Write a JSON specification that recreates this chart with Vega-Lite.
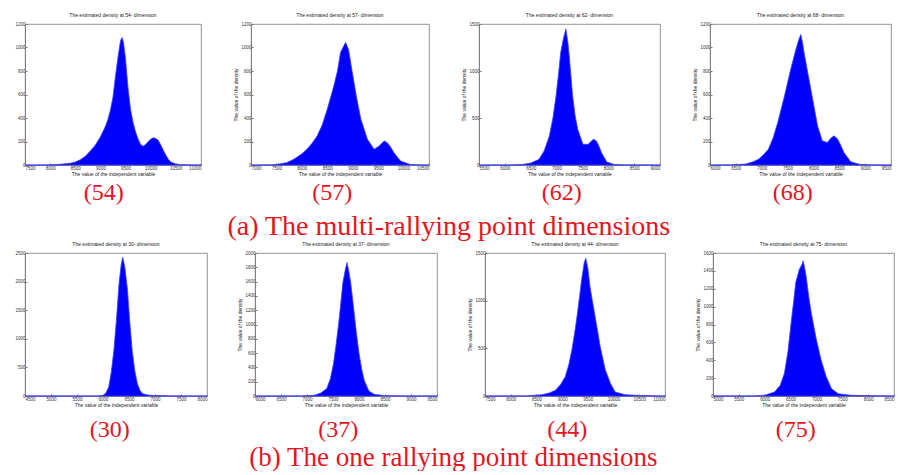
{
  "$schema": "https://vega.github.io/schema/vega-lite/v6.json",
  "padding": {"left": 4, "top": 12, "right": 5, "bottom": 0},
  "background": "white",
  "spacing": 0,
  "config": {
    "view": {"stroke": "#777", "strokeWidth": 0.8},
    "font": "Liberation Sans",
    "title": {"fontSize": 5, "fontWeight": "normal", "color": "#222", "offset": 3, "font": "Liberation Sans", "anchor": "middle"},
    "axis": {"labelFontSize": 4.5, "titleFontSize": 5, "titleFontWeight": "normal", "labelColor": "#333", "titleColor": "#222", "domainColor": "#777", "domainWidth": 0.8, "tickColor": "#777", "tickSize": -2, "labelPadding": 2, "titlePadding": 2, "grid": false},
    "area": {"color": "#0000ff", "interpolate": "linear", "stroke": "#4040ff", "strokeWidth": 0.8}
  },
  "datasets": {
    "d54": [
      {"x": 7500, "y": 0}, {"x": 7900, "y": 0}, {"x": 8000, "y": 2}, {"x": 8200, "y": 6}, {"x": 8400, "y": 15}, {"x": 8500, "y": 25}, {"x": 8600, "y": 45}, {"x": 8700, "y": 75}, {"x": 8800, "y": 120}, {"x": 8900, "y": 170}, {"x": 9000, "y": 240}, {"x": 9100, "y": 330}, {"x": 9150, "y": 390}, {"x": 9200, "y": 470}, {"x": 9250, "y": 580}, {"x": 9300, "y": 760}, {"x": 9350, "y": 920}, {"x": 9400, "y": 1060}, {"x": 9430, "y": 1085}, {"x": 9460, "y": 1040}, {"x": 9500, "y": 900}, {"x": 9550, "y": 650}, {"x": 9600, "y": 470}, {"x": 9650, "y": 360}, {"x": 9700, "y": 280}, {"x": 9750, "y": 220}, {"x": 9800, "y": 175}, {"x": 9850, "y": 160}, {"x": 9900, "y": 175}, {"x": 9950, "y": 200}, {"x": 10000, "y": 220}, {"x": 10050, "y": 232}, {"x": 10100, "y": 225}, {"x": 10150, "y": 210}, {"x": 10200, "y": 170}, {"x": 10250, "y": 125}, {"x": 10300, "y": 85}, {"x": 10350, "y": 50}, {"x": 10400, "y": 25}, {"x": 10500, "y": 8}, {"x": 10600, "y": 3}, {"x": 10800, "y": 1}, {"x": 11000, "y": 0}
    ],
    "d57": [
      {"x": 7000, "y": 0}, {"x": 7400, "y": 1}, {"x": 7500, "y": 5}, {"x": 7700, "y": 20}, {"x": 7840, "y": 48}, {"x": 8000, "y": 95}, {"x": 8100, "y": 134}, {"x": 8200, "y": 185}, {"x": 8300, "y": 247}, {"x": 8400, "y": 340}, {"x": 8500, "y": 475}, {"x": 8630, "y": 674}, {"x": 8700, "y": 800}, {"x": 8760, "y": 958}, {"x": 8820, "y": 1010}, {"x": 8860, "y": 1043}, {"x": 8920, "y": 980}, {"x": 8970, "y": 845}, {"x": 9070, "y": 589}, {"x": 9160, "y": 390}, {"x": 9290, "y": 219}, {"x": 9420, "y": 134}, {"x": 9520, "y": 162}, {"x": 9620, "y": 205}, {"x": 9680, "y": 190}, {"x": 9750, "y": 150}, {"x": 9810, "y": 105}, {"x": 9940, "y": 34}, {"x": 10130, "y": 5}, {"x": 10300, "y": 1}, {"x": 10500, "y": 0}
    ],
    "d62": [
      {"x": 5500, "y": 0}, {"x": 6100, "y": 0}, {"x": 6340, "y": 6}, {"x": 6500, "y": 20}, {"x": 6660, "y": 60}, {"x": 6760, "y": 150}, {"x": 6860, "y": 309}, {"x": 6930, "y": 500}, {"x": 6990, "y": 736}, {"x": 7040, "y": 980}, {"x": 7080, "y": 1198}, {"x": 7130, "y": 1340}, {"x": 7180, "y": 1447}, {"x": 7220, "y": 1300}, {"x": 7250, "y": 1127}, {"x": 7310, "y": 736}, {"x": 7360, "y": 520}, {"x": 7410, "y": 380}, {"x": 7510, "y": 220}, {"x": 7610, "y": 220}, {"x": 7710, "y": 274}, {"x": 7770, "y": 256}, {"x": 7820, "y": 200}, {"x": 7870, "y": 131}, {"x": 7970, "y": 32}, {"x": 8100, "y": 7}, {"x": 8300, "y": 1}, {"x": 9000, "y": 0}
    ],
    "d68": [
      {"x": 6000, "y": 0}, {"x": 6400, "y": 1}, {"x": 6690, "y": 8}, {"x": 6820, "y": 25}, {"x": 6940, "y": 50}, {"x": 7040, "y": 90}, {"x": 7130, "y": 135}, {"x": 7220, "y": 230}, {"x": 7310, "y": 361}, {"x": 7440, "y": 587}, {"x": 7560, "y": 813}, {"x": 7660, "y": 983}, {"x": 7720, "y": 1070}, {"x": 7756, "y": 1110}, {"x": 7790, "y": 1040}, {"x": 7820, "y": 954}, {"x": 7950, "y": 644}, {"x": 8080, "y": 333}, {"x": 8170, "y": 206}, {"x": 8270, "y": 192}, {"x": 8340, "y": 230}, {"x": 8400, "y": 248}, {"x": 8470, "y": 220}, {"x": 8530, "y": 165}, {"x": 8590, "y": 107}, {"x": 8720, "y": 28}, {"x": 8900, "y": 5}, {"x": 9100, "y": 1}, {"x": 9500, "y": 0}
    ],
    "d30": [
      {"x": 4500, "y": 0}, {"x": 5900, "y": 0}, {"x": 6010, "y": 12}, {"x": 6060, "y": 60}, {"x": 6110, "y": 159}, {"x": 6160, "y": 420}, {"x": 6210, "y": 806}, {"x": 6260, "y": 1350}, {"x": 6310, "y": 1982}, {"x": 6350, "y": 2300}, {"x": 6380, "y": 2424}, {"x": 6420, "y": 2250}, {"x": 6470, "y": 1865}, {"x": 6510, "y": 1350}, {"x": 6560, "y": 806}, {"x": 6610, "y": 450}, {"x": 6660, "y": 218}, {"x": 6710, "y": 100}, {"x": 6760, "y": 41}, {"x": 6890, "y": 12}, {"x": 7330, "y": 2}, {"x": 7900, "y": 0}, {"x": 8000, "y": 0}
    ],
    "d37": [
      {"x": 6000, "y": 0}, {"x": 6900, "y": 0}, {"x": 7140, "y": 10}, {"x": 7260, "y": 40}, {"x": 7380, "y": 104}, {"x": 7450, "y": 240}, {"x": 7510, "y": 456}, {"x": 7560, "y": 720}, {"x": 7610, "y": 1021}, {"x": 7650, "y": 1300}, {"x": 7690, "y": 1586}, {"x": 7740, "y": 1780}, {"x": 7770, "y": 1868}, {"x": 7800, "y": 1760}, {"x": 7840, "y": 1586}, {"x": 7900, "y": 1209}, {"x": 7950, "y": 880}, {"x": 8000, "y": 598}, {"x": 8050, "y": 380}, {"x": 8100, "y": 221}, {"x": 8190, "y": 70}, {"x": 8290, "y": 24}, {"x": 8490, "y": 5}, {"x": 8800, "y": 1}, {"x": 9500, "y": 0}
    ],
    "d44": [
      {"x": 7500, "y": 0}, {"x": 8300, "y": 1}, {"x": 8610, "y": 14}, {"x": 8750, "y": 32}, {"x": 8870, "y": 60}, {"x": 8970, "y": 120}, {"x": 9060, "y": 201}, {"x": 9130, "y": 330}, {"x": 9190, "y": 484}, {"x": 9240, "y": 650}, {"x": 9290, "y": 836}, {"x": 9340, "y": 1050}, {"x": 9380, "y": 1225}, {"x": 9430, "y": 1400}, {"x": 9460, "y": 1444}, {"x": 9500, "y": 1340}, {"x": 9540, "y": 1154}, {"x": 9590, "y": 990}, {"x": 9640, "y": 836}, {"x": 9690, "y": 680}, {"x": 9740, "y": 519}, {"x": 9840, "y": 272}, {"x": 9940, "y": 131}, {"x": 10030, "y": 42}, {"x": 10220, "y": 14}, {"x": 10540, "y": 4}, {"x": 10900, "y": 0}, {"x": 11000, "y": 0}
    ],
    "d75": [
      {"x": 5000, "y": 0}, {"x": 5800, "y": 1}, {"x": 6000, "y": 8}, {"x": 6190, "y": 45}, {"x": 6300, "y": 120}, {"x": 6380, "y": 252}, {"x": 6450, "y": 500}, {"x": 6510, "y": 817}, {"x": 6560, "y": 1060}, {"x": 6600, "y": 1269}, {"x": 6670, "y": 1419}, {"x": 6720, "y": 1470}, {"x": 6744, "y": 1513}, {"x": 6770, "y": 1440}, {"x": 6800, "y": 1344}, {"x": 6850, "y": 1120}, {"x": 6900, "y": 930}, {"x": 7000, "y": 629}, {"x": 7090, "y": 403}, {"x": 7190, "y": 215}, {"x": 7290, "y": 83}, {"x": 7420, "y": 26}, {"x": 7670, "y": 8}, {"x": 8060, "y": 2}, {"x": 8500, "y": 0}
    ]
  },
  "vconcat": [
    {
      "title": {"text": "(a) The multi-rallying point dimensions", "orient": "bottom", "fontSize": 28, "font": "Liberation Serif", "color": "#e3161e", "offset": 8},
      "spacing": 30,
      "hconcat": [
        {
          "title": {"text": "(54)", "orient": "bottom", "fontSize": 24, "font": "Liberation Serif", "color": "#e3161e", "offset": 4},
          "vconcat": [{
            "width": 176, "height": 141,
            "title": "The estimated density at 54- dimension",
            "data": {"name": "d54"},
            "mark": {"type": "area"},
            "encoding": {
              "x": {"field": "x", "type": "quantitative", "scale": {"domain": [7500, 11000], "nice": false}, "axis": {"values": [7500, 8000, 8500, 9000, 9500, 10000, 10500, 11000], "format": "d", "title": "The value of the independent variable"}},
              "y": {"field": "y", "type": "quantitative", "scale": {"domain": [0, 1200], "nice": false}, "axis": {"values": [0, 200, 400, 600, 800, 1000, 1200], "format": "d", "title": null, "minExtent": 20, "maxExtent": 20}}
            }
          }]
        },
        {
          "title": {"text": "(57)", "orient": "bottom", "fontSize": 24, "font": "Liberation Serif", "color": "#e3161e", "offset": 4},
          "vconcat": [{
            "width": 178, "height": 141,
            "title": "The estimated density at 57- dimension",
            "data": {"name": "d57"},
            "mark": {"type": "area"},
            "encoding": {
              "x": {"field": "x", "type": "quantitative", "scale": {"domain": [7000, 10500], "nice": false}, "axis": {"values": [7000, 7500, 8000, 8500, 9000, 9500, 10000, 10500], "format": "d", "title": "The value of the independent variable"}},
              "y": {"field": "y", "type": "quantitative", "scale": {"domain": [0, 1200], "nice": false}, "axis": {"values": [0, 200, 400, 600, 800, 1000, 1200], "format": "d", "title": "The value of the density"}}
            }
          }]
        },
        {
          "title": {"text": "(62)", "orient": "bottom", "fontSize": 24, "font": "Liberation Serif", "color": "#e3161e", "offset": 4},
          "vconcat": [{
            "width": 181, "height": 141,
            "title": "The estimated density at 62- dimension",
            "data": {"name": "d62"},
            "mark": {"type": "area"},
            "encoding": {
              "x": {"field": "x", "type": "quantitative", "scale": {"domain": [5500, 9000], "nice": false}, "axis": {"values": [5500, 6000, 6500, 7000, 7500, 8000, 8500, 9000], "format": "d", "title": "The value of the independent variable"}},
              "y": {"field": "y", "type": "quantitative", "scale": {"domain": [0, 1500], "nice": false}, "axis": {"values": [0, 500, 1000, 1500], "format": "d", "title": "The value of the density"}}
            }
          }]
        },
        {
          "title": {"text": "(68)", "orient": "bottom", "fontSize": 24, "font": "Liberation Serif", "color": "#e3161e", "offset": 4},
          "vconcat": [{
            "width": 181, "height": 141,
            "title": "The estimated density at 68- dimension",
            "data": {"name": "d68"},
            "mark": {"type": "area"},
            "encoding": {
              "x": {"field": "x", "type": "quantitative", "scale": {"domain": [6000, 9500], "nice": false}, "axis": {"values": [6000, 6500, 7000, 7500, 8000, 8500, 9000, 9500], "format": "d", "title": "The value of the independent variable"}},
              "y": {"field": "y", "type": "quantitative", "scale": {"domain": [0, 1200], "nice": false}, "axis": {"values": [0, 200, 400, 600, 800, 1000, 1200], "format": "d", "title": "The value of the density"}}
            }
          }]
        }
      ]
    },
    {
      "title": {"text": "(b) The one rallying point dimensions", "orient": "bottom", "fontSize": 27, "font": "Liberation Serif", "color": "#e3161e", "offset": 3},
      "spacing": 28,
      "hconcat": [
        {
          "title": {"text": "(30)", "orient": "bottom", "fontSize": 24, "font": "Liberation Serif", "color": "#e3161e", "offset": 10},
          "vconcat": [{
            "width": 182, "height": 143,
            "title": "The estimated density at 30- dimension",
            "data": {"name": "d30"},
            "mark": {"type": "area"},
            "encoding": {
              "x": {"field": "x", "type": "quantitative", "scale": {"domain": [4500, 8000], "nice": false}, "axis": {"values": [4500, 5000, 5500, 6000, 6500, 7000, 7500, 8000], "format": "d", "title": "The value of the independent variable"}},
              "y": {"field": "y", "type": "quantitative", "scale": {"domain": [0, 2500], "nice": false}, "axis": {"values": [0, 500, 1000, 1500, 2000, 2500], "format": "d", "title": null, "minExtent": 14, "maxExtent": 14}}
            }
          }]
        },
        {
          "title": {"text": "(37)", "orient": "bottom", "fontSize": 24, "font": "Liberation Serif", "color": "#e3161e", "offset": 10},
          "vconcat": [{
            "width": 182, "height": 143,
            "title": "The estimated density at 37- dimension",
            "data": {"name": "d37"},
            "mark": {"type": "area"},
            "encoding": {
              "x": {"field": "x", "type": "quantitative", "scale": {"domain": [6000, 9500], "nice": false}, "axis": {"values": [6000, 6500, 7000, 7500, 8000, 8500, 9000, 9500], "format": "d", "title": "The value of the independent variable"}},
              "y": {"field": "y", "type": "quantitative", "scale": {"domain": [0, 2000], "nice": false}, "axis": {"values": [0, 200, 400, 600, 800, 1000, 1200, 1400, 1600, 1800, 2000], "format": "d", "title": "The value of the density"}}
            }
          }]
        },
        {
          "title": {"text": "(44)", "orient": "bottom", "fontSize": 24, "font": "Liberation Serif", "color": "#e3161e", "offset": 10},
          "vconcat": [{
            "width": 180, "height": 143,
            "title": "The estimated density at 44- dimension",
            "data": {"name": "d44"},
            "mark": {"type": "area"},
            "encoding": {
              "x": {"field": "x", "type": "quantitative", "scale": {"domain": [7500, 11000], "nice": false}, "axis": {"values": [7500, 8000, 8500, 9000, 9500, 10000, 10500, 11000], "format": "d", "title": "The value of the independent variable"}},
              "y": {"field": "y", "type": "quantitative", "scale": {"domain": [0, 1500], "nice": false}, "axis": {"values": [0, 500, 1000, 1500], "format": "d", "title": "The value of the density"}}
            }
          }]
        },
        {
          "title": {"text": "(75)", "orient": "bottom", "fontSize": 24, "font": "Liberation Serif", "color": "#e3161e", "offset": 10},
          "vconcat": [{
            "width": 181, "height": 143,
            "title": "The estimated density at 75- dimension",
            "data": {"name": "d75"},
            "mark": {"type": "area"},
            "encoding": {
              "x": {"field": "x", "type": "quantitative", "scale": {"domain": [5000, 8500], "nice": false}, "axis": {"values": [5000, 5500, 6000, 6500, 7000, 7500, 8000, 8500], "format": "d", "title": "The value of the independent variable"}},
              "y": {"field": "y", "type": "quantitative", "scale": {"domain": [0, 1600], "nice": false}, "axis": {"values": [0, 200, 400, 600, 800, 1000, 1200, 1400, 1600], "format": "d", "title": "The value of the density"}}
            }
          }]
        }
      ]
    }
  ]
}
